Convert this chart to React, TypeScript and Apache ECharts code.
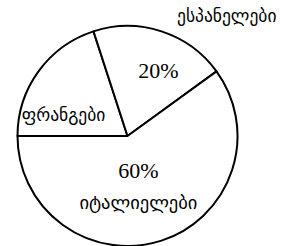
import React, { useEffect, useRef } from "react";
import * as echarts from "echarts";

const categories = ["ფრანგები", "ესპანელები", "იტალიელები"];
const values = [20, 20, 60];
const percentLabels = ["", "20%", "60%"];

const FONT_SERIF = "'Liberation Serif', 'DejaVu Serif', serif";
const FONT_GEO = "'DejaVu Sans', 'Noto Sans', sans-serif";

export default function App() {
  const ref = useRef<HTMLDivElement>(null);
  useEffect(() => {
    if (!ref.current) return;
    const chart = echarts.init(ref.current, undefined, { renderer: "svg" });
    const labelCfg: any[] = [
      { show: true, position: "inside", offset: [-17, 13], formatter: "{n|{b}}" },
      { show: true, position: "inside", offset: [13, -10], formatter: () => `{p|${percentLabels[1]}}` },
      {
        show: true,
        position: "inside",
        offset: [-7, -6],
        formatter: () => `{p|${percentLabels[2]}}\n{m|${categories[2]}}`,
      },
    ];
    const rich = {
      p: { fontFamily: FONT_SERIF, fontSize: 22, color: "#000", lineHeight: 34 },
      n: { fontFamily: FONT_GEO, fontSize: 17.5, color: "#000", lineHeight: 28 },
      m: { fontFamily: FONT_GEO, fontSize: 18.5, color: "#000", lineHeight: 30 },
    };
    chart.setOption({
      animation: false,
      backgroundColor: "#fff",
      series: [
        {
          type: "pie",
          center: [127.5, 136],
          radius: 110,
          startAngle: 180,
          clockwise: true,
          silent: true,
          itemStyle: { color: "#fff", borderColor: "#000", borderWidth: 2 },
          labelLine: { show: false },
          data: categories.map((c, i) => ({
            name: c,
            value: values[i],
            label: { ...labelCfg[i], rich },
          })),
        },
      ],
      graphic: [
        {
          type: "text",
          left: 177,
          top: 7,
          style: {
            text: categories[1],
            font: `17.5px ${FONT_GEO}`,
            fill: "#000",
          },
        },
      ],
    });
    return () => chart.dispose();
  }, []);
  return (
    <div
      ref={ref}
      style={{ position: "fixed", left: 0, top: 0, width: 291, height: 246, background: "#fff" }}
    />
  );
}
